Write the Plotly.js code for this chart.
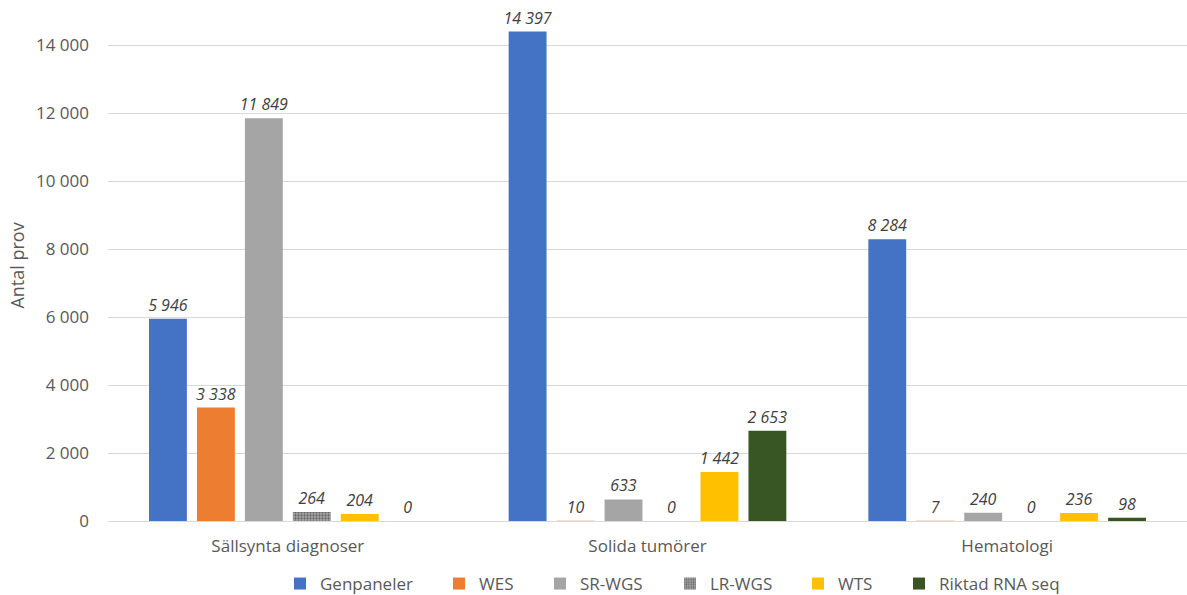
<!DOCTYPE html>
<html>
<head>
<meta charset="utf-8">
<script src="https://cdn.plot.ly/plotly-3.0.1.min.js"></script>
<style>html,body{margin:0;padding:0;background:#fff;}#chart{width:1187px;height:595px;}</style>
</head>
<body>
<div id="chart"></div>
<script>
var categories = ["Sällsynta diagnoser", "Solida tumörer", "Hematologi"];
var seriesNames = ["Genpaneler", "WES", "SR-WGS", "LR-WGS", "WTS", "Riktad RNA seq"];
var genpaneler = [5946, 14397, 8284];
var wes = [3338, 10, 7];
var srWgs = [11849, 633, 240];
var lrWgs = [264, 0, 0];
var wts = [204, 1442, 236];
var riktadRna = [0, 2653, 98];
var yTicks = [0, 2000, 4000, 6000, 8000, 10000, 12000, 14000];

var seriesValues = [genpaneler, wes, srWgs, lrWgs, wts, riktadRna];
var colors = ["#4472C4", "#ED7D31", "#A5A5A5", "#8C8C8C", "#FFC000", "#375623"];
// left pixel position of each legend entry (styling only)
var legendLeft = [280, 439, 540, 670, 798, 899];

var legendIds = ["legend", "legend2", "legend3", "legend4", "legend5", "legend6"];

var traces = seriesValues.map(function (vals, i) {
  var marker = { color: colors[i], line: { width: 0 } };
  if (i === 3) {
    marker.pattern = { shape: ".", fgcolor: "#686868", bgcolor: "#a8a8a8", size: 3, solidity: 0.45 };
  }
  return {
    type: "bar",
    name: seriesNames[i],
    x: categories,
    y: vals,
    legend: legendIds[i],
    marker: marker,
    texttemplate: "%{y:,}",
    textposition: "outside",
    constraintext: "none",
    cliponaxis: false,
    textfont: { family: "Open Sans, sans-serif", size: 16, color: "#404040", style: "italic" },
    hoverinfo: "x+y+name"
  };
});

var layout = {
  width: 1187,
  height: 595,
  margin: { l: 108, r: 0, t: 10, b: 74 },
  paper_bgcolor: "#ffffff",
  plot_bgcolor: "#ffffff",
  separators: ", ",
  barmode: "group",
  bargap: 0.2,
  bargroupgap: 0.21,
  font: { family: "Open Sans, sans-serif", color: "#595959", size: 17 },
  showlegend: true,
  xaxis: {
    type: "category",
    showline: true,
    linecolor: "#d9d9d9",
    linewidth: 1,
    ticks: "",
    ticklabelstandoff: 10,
    tickfont: { size: 17, color: "#595959" },
    showgrid: false,
    zeroline: false,
    automargin: false
  },
  yaxis: {
    range: [0, 15030],
    tickvals: yTicks,
    tickformat: ",d",
    showgrid: true,
    gridcolor: "#d9d9d9",
    gridwidth: 1,
    zeroline: false,
    showline: false,
    ticks: "",
    ticklabelstandoff: 18,
    tickfont: { size: 17, color: "#595959" },
    automargin: false,
    title: { text: "Antal prov", font: { size: 18, color: "#595959" }, standoff: 6 }
  }
};

legendIds.forEach(function (id, i) {
  layout[id] = {
    orientation: "h",
    xref: "container",
    x: legendLeft[i] / 1187,
    xanchor: "left",
    yref: "container",
    y: 0.0185,
    yanchor: "middle",
    bgcolor: "rgba(0,0,0,0)",
    font: { size: 17, color: "#595959" }
  };
});

Plotly.newPlot("chart", traces, layout, { displayModeBar: false, staticPlot: true });
</script>
</body>
</html>
